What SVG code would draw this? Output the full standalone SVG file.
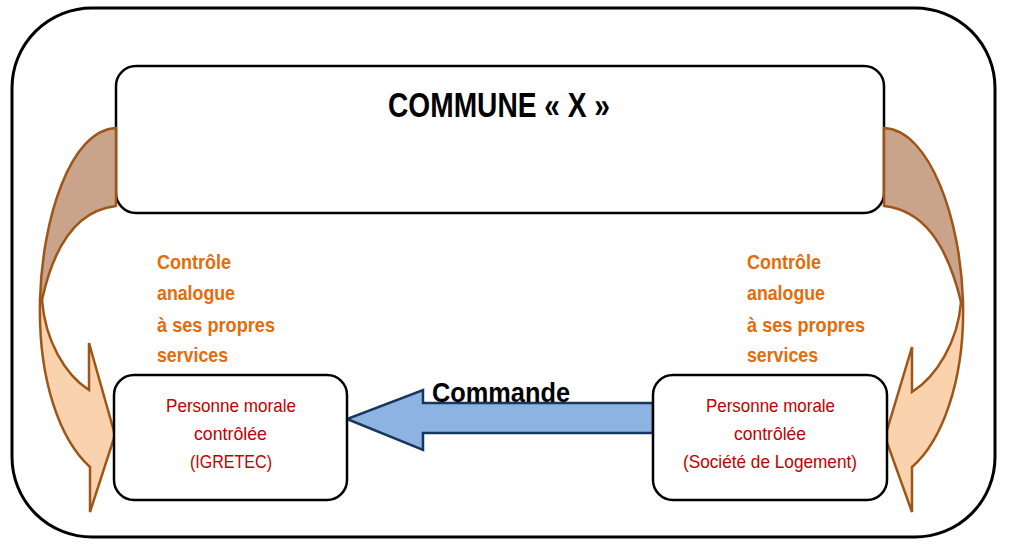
<svg xmlns="http://www.w3.org/2000/svg" width="1015" height="553" viewBox="0 0 1015 553">
<style>
.box{fill:#fff;stroke:#000;stroke-width:2.5}
.back{fill:#c9a48a;stroke:#9e5618;stroke-width:2.5;stroke-linejoin:round}
.front{fill:#fad3ae;stroke:#9e5618;stroke-width:2.5;stroke-linejoin:miter}
.lbl{font-family:"Liberation Sans",Arial,sans-serif;font-weight:bold;font-size:21px;fill:#e46c0a}
.red{font-family:"Liberation Sans",Arial,sans-serif;font-size:19px;fill:#c00000}
.title{font-family:"Liberation Sans",Arial,sans-serif;font-weight:bold;font-size:35px;fill:#000}
.cmd{font-family:"Liberation Sans",Arial,sans-serif;font-weight:bold;font-size:27px;fill:#000}
</style>
<rect width="1015" height="553" fill="#fff"/>
<g id="frame"><rect x="12" y="8" width="983" height="529" rx="80" ry="80" fill="#fff" stroke="#000" stroke-width="3"/></g>
<g id="commune">
<rect class="box" x="116" y="66" width="768" height="147" rx="20" ry="20"/>
<text class="title" x="388" y="117" textLength="222" lengthAdjust="spacingAndGlyphs">COMMUNE « X »</text>
</g>
<g id="connectors">
<g id="arrow-left">
<path class="back" d="M116,128 C70,130 42,220 40,300 L42,300 C55,240 80,210 116,206 Z"/>
<path class="front" d="M40,300 C38,380 60,440 90,467 L90,512 L115,435 L89,343 L89,390 C65,375 45,340 42,300 Z"/>
</g>
<g id="arrow-right" transform="translate(1001,0) scale(-1,1)">
<path class="back" d="M117,128 C71,130 40,220 38,302 L40,302 C55,240 80,210 117,206 Z"/>
<path class="front" d="M38,302 C36,382 60,442 89,467 L89,512 L116,437 L89,347 L89,392 C65,377 43,342 40,302 Z"/>
</g>
<g id="commande">
<path d="M653,403 L423,403 L423,390 L347,419 L423,450 L423,433 L653,433 Z" fill="#8db3e2" stroke="#17375e" stroke-width="2.5" stroke-linejoin="miter"/>
<text class="cmd" x="432" y="402" textLength="138" lengthAdjust="spacingAndGlyphs">Commande</text>
</g>
<g id="label-left">
<text class="lbl" x="157" y="269" textLength="74" lengthAdjust="spacingAndGlyphs">Contrôle</text>
<text class="lbl" x="157" y="300" textLength="78" lengthAdjust="spacingAndGlyphs">analogue</text>
<text class="lbl" x="157" y="332" textLength="118" lengthAdjust="spacingAndGlyphs">à ses propres</text>
<text class="lbl" x="157" y="362" textLength="71" lengthAdjust="spacingAndGlyphs">services</text>
</g>
<g id="label-right">
<text class="lbl" x="747" y="269" textLength="74" lengthAdjust="spacingAndGlyphs">Contrôle</text>
<text class="lbl" x="747" y="300" textLength="78" lengthAdjust="spacingAndGlyphs">analogue</text>
<text class="lbl" x="747" y="332" textLength="118" lengthAdjust="spacingAndGlyphs">à ses propres</text>
<text class="lbl" x="747" y="362" textLength="71" lengthAdjust="spacingAndGlyphs">services</text>
</g>
</g>
<g id="igretec">
<rect class="box" x="114" y="375" width="233" height="125" rx="20" ry="20"/>
<text class="red" x="166" y="412" textLength="130" lengthAdjust="spacingAndGlyphs">Personne morale</text>
<text class="red" x="194" y="440" textLength="73" lengthAdjust="spacingAndGlyphs">contrôlée</text>
<text class="red" x="190" y="468" textLength="82" lengthAdjust="spacingAndGlyphs">(IGRETEC)</text>
</g>
<g id="logement">
<rect class="box" x="653" y="375" width="234" height="125" rx="20" ry="20"/>
<text class="red" x="706" y="412" textLength="129" lengthAdjust="spacingAndGlyphs">Personne morale</text>
<text class="red" x="734" y="440" textLength="72" lengthAdjust="spacingAndGlyphs">contrôlée</text>
<text class="red" x="683" y="468" textLength="174" lengthAdjust="spacingAndGlyphs">(Société de Logement)</text>
</g>
</svg>
